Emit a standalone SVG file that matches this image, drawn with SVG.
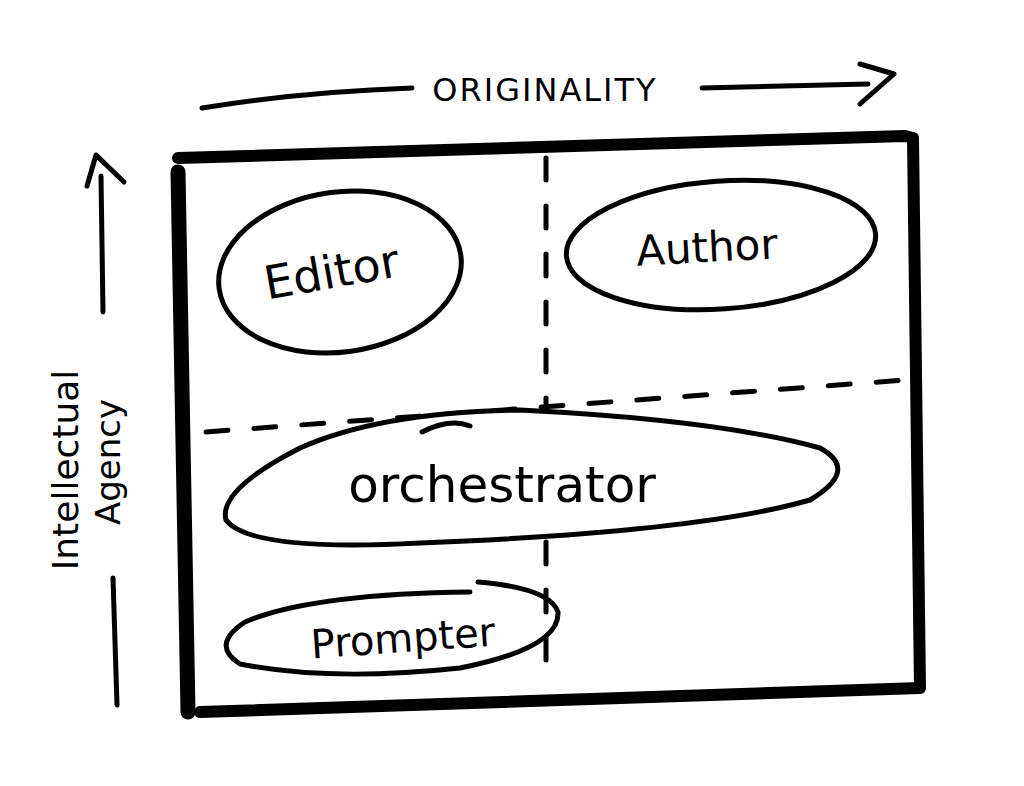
<svg xmlns="http://www.w3.org/2000/svg" width="1024" height="786" viewBox="0 0 1024 786">
<style>
.ink{fill:none;stroke:#000;stroke-linecap:round;stroke-linejoin:round}
.fill{fill:#fff}
.thin{stroke-width:5}
.thick{stroke-width:12}
.dash{stroke-width:5;stroke-dasharray:22 26}
.lbl{font-family:"DejaVu Sans","Liberation Sans",sans-serif;fill:#000;text-anchor:middle}
</style>
<rect width="1024" height="786" fill="#fff"/>
<g id="connectors">
  <path class="ink thin" d="M202,108 Q300,92 412,88"/>
  <path class="ink thin" d="M702,88 L868,84"/>
  <path class="ink thin" d="M860,64 L894,74 L860,104"/>
  <path class="ink thin" d="M101,176 L103,312"/>
  <path class="ink thin" d="M87,186 L96,155 L124,182"/>
  <path class="ink thin" d="M113,578 L117,705"/>
</g>
<g id="frame">
  <path class="ink thick" d="M178,158 L905,136 L913,138 L920,688 L200,712"/>
  <path class="ink" stroke-width="15" d="M178,172 L188,712"/>
  <path class="ink dash" d="M546,158 L546,682"/>
  <path class="ink dash" d="M206,432 L905,380"/>
</g>
<g id="axis-x">
  <text class="lbl" x="545" y="101" font-size="32" letter-spacing="2">ORIGINALITY</text>
</g>
<g id="axis-y">
  <text class="lbl" transform="translate(78,470) rotate(-90)" font-size="36">Intellectual</text>
  <text class="lbl" transform="translate(120,462) rotate(-90)" font-size="34">Agency</text>
</g>
<g id="editor">
  <ellipse class="ink thin fill" cx="340" cy="272" rx="122" ry="80" transform="rotate(-8 340 272)"/>
  <text class="lbl" x="332" y="288" font-size="46" transform="rotate(-10 332 275)">Editor</text>
</g>
<g id="author">
  <ellipse class="ink thin fill" cx="721" cy="245" rx="155" ry="64" transform="rotate(-4 721 245)"/>
  <text class="lbl" x="707" y="262" font-size="42" transform="rotate(-3 706 250)">Author</text>
</g>
<g id="orchestrator">
  <path class="ink thin fill" d="M520,410 Q720,420 820,448 Q860,470 810,500 Q700,532 420,543 Q250,552 226,520 Q218,490 300,448 Q380,412 520,410 Z"/>
  <path class="ink thin" d="M422,432 Q450,418 470,426"/>
  <text class="lbl" x="502" y="502" font-size="50">orchestrator</text>
</g>
<g id="prompter">
  <path class="ink thin" d="M478,582 Q550,588 558,612 Q560,648 460,668 Q330,682 240,664 Q210,645 245,622 Q310,594 470,592"/>
  <text class="lbl" x="403" y="652" font-size="40" transform="rotate(-4 403 640)">Prompter</text>
</g>
</svg>
